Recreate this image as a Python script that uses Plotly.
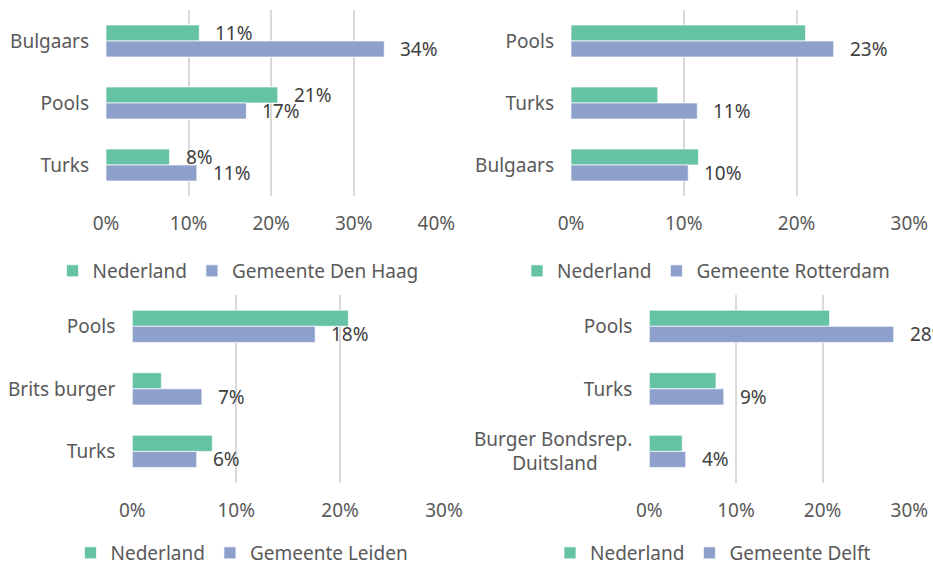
import plotly.graph_objects as go

# Shares of the three largest nationality groups: national level vs. municipality
den_haag_cats = ["Bulgaars", "Pools", "Turks"]
den_haag_nl = [0.113, 0.208, 0.077]
den_haag_gem = [0.337, 0.170, 0.110]

rotterdam_cats = ["Pools", "Turks", "Bulgaars"]
rotterdam_nl = [0.208, 0.077, 0.113]
rotterdam_gem = [0.233, 0.112, 0.104]

leiden_cats = ["Pools", "Brits burger", "Turks"]
leiden_nl = [0.208, 0.028, 0.077]
leiden_gem = [0.176, 0.067, 0.062]

delft_cats = ["Pools", "Turks", "Burger Bondsrep.<br>Duitsland       "]
delft_nl = [0.208, 0.077, 0.038]
delft_gem = [0.282, 0.086, 0.042]

x_ticks = [0, 0.1, 0.2, 0.3, 0.4]
x_tick_text = ["0%", "10%", "20%", "30%", "40%"]

GREEN = "#66C2A5"
PURPLE = "#8DA0CB"
FONT = "Noto Sans"
TICK_COLOR = "#595959"
LABEL_COLOR = "#404040"
W, H = 933, 565

panels = [
    # cats, nl, gem, municipality, x-range max, label both series, x px, y px
    (den_haag_cats, den_haag_nl, den_haag_gem, "Gemeente Den Haag", 0.4, True, (106, 436.3), (10, 196)),
    (rotterdam_cats, rotterdam_nl, rotterdam_gem, "Gemeente Rotterdam", 0.3, False, (571, 909.3), (10, 196)),
    (leiden_cats, leiden_nl, leiden_gem, "Gemeente Leiden", 0.3, False, (132.3, 444), (295, 482.7)),
    (delft_cats, delft_nl, delft_gem, "Gemeente Delft", 0.3, False, (649.3, 909.3), (295, 482.7)),
]
legend_pos = [(238, 271), (706, 271), (242, 553), (713, 553)]

fig = go.Figure()
layout = {}
annotations = []

for i, (cats, nl, gem, name, xmax, both, (x0, x1), (y0, y1)) in enumerate(panels):
    n = "" if i == 0 else str(i + 1)
    xa, ya = "x" + n, "y" + n
    leg = "legend" + n
    fig.add_trace(go.Bar(
        y=cats, x=nl, orientation="h", name="Nederland",
        marker=dict(color=GREEN, line=dict(color="rgba(255,255,255,0.7)", width=1)),
        xaxis=xa, yaxis=ya, legend=leg, legendrank=1,
    ))
    fig.add_trace(go.Bar(
        y=cats, x=gem, orientation="h", name=name,
        marker=dict(color=PURPLE, line=dict(color="rgba(255,255,255,0.7)", width=1)),
        xaxis=xa, yaxis=ya, legend=leg, legendrank=2,
    ))
    # value labels just past the end of each bar
    series = [(gem, -8)]
    if both:
        series.append((nl, 8))
    for vals, dy in series:
        for c, v in zip(cats, vals):
            annotations.append(dict(
                x=v, y=c, xref=xa, yref=ya, text=f"{round(v * 100):d}%",
                showarrow=False, xanchor="left", yanchor="middle",
                xshift=14, yshift=dy,
                font=dict(family=FONT, size=19, color=LABEL_COLOR),
            ))
    k = int(round(xmax * 10)) + 1
    layout["xaxis" + n] = dict(
        domain=[x0 / W, x1 / W], range=[0, xmax], anchor=ya,
        tickvals=x_ticks[:k], ticktext=x_tick_text[:k],
        showgrid=True, gridcolor="#D9D9D9", gridwidth=2,
        zeroline=False, showline=False, ticks="",
        ticklabelstandoff=14, automargin=False,
        tickfont=dict(family=FONT, size=19, color=TICK_COLOR),
        fixedrange=True,
    )
    layout["yaxis" + n] = dict(
        domain=[1 - y1 / H, 1 - y0 / H], anchor=xa,
        type="category", autorange="reversed",
        showgrid=False, zeroline=False, showline=False, ticks="",
        ticklabelstandoff=16, automargin=False,
        tickfont=dict(family=FONT, size=19, color=TICK_COLOR),
        fixedrange=True,
    )
    lx, ly = legend_pos[i]
    layout[leg] = dict(
        orientation="h", x=lx / W, y=1 - ly / H,
        xanchor="center", yanchor="middle",
        font=dict(family=FONT, size=19, color=TICK_COLOR),
        bgcolor="rgba(0,0,0,0)", itemclick=False, itemdoubleclick=False,
    )

fig.update_layout(
    width=W, height=H,
    margin=dict(l=0, r=0, t=0, b=0, pad=0, autoexpand=False),
    paper_bgcolor="white", plot_bgcolor="white",
    barmode="group", bargap=0.484, bargroupgap=0,
    showlegend=True,
    annotations=annotations,
    **layout,
)

fig.write_html("out.html")
